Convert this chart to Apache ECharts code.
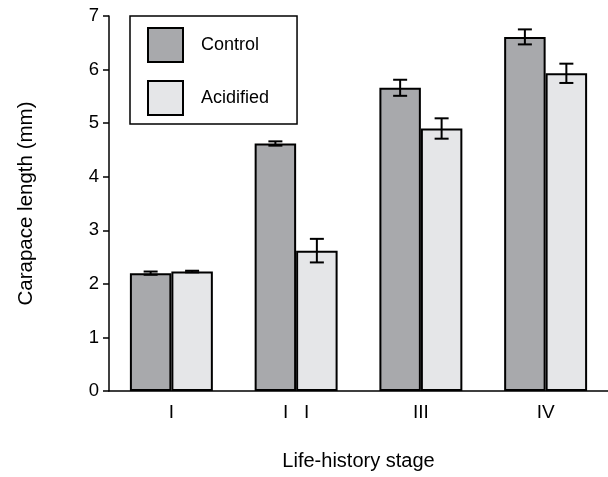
<!DOCTYPE html>
<html style="height: 100%">
<head>
    <meta charset="utf-8">
</head>
<body style="height: 100%; margin: 0; background: #fff">
    <div id="container" style="width: 608px; height: 477px"></div>
    <script type="text/javascript" src="https://cdn.jsdelivr.net/npm/echarts@6/dist/echarts.min.js"></script>
    <script type="text/javascript">
        var stages = ['I', 'I   I', 'III', 'IV'];
        var controlMean = [2.20, 4.62, 5.66, 6.61];
        var controlErr = [0.03, 0.04, 0.15, 0.14];
        var acidMean = [2.23, 2.62, 4.90, 5.93];
        var acidErr = [0.015, 0.22, 0.19, 0.18];

        var font = "'Liberation Sans', Arial, sans-serif";
        var gapPct = 0.335; // barCategoryGap

        // error bar series, side = -1 for left bar, +1 for right bar
        function errSeries(name, means, errs, side) {
            var data = means.map(function (m, i) { return [i, m, errs[i]]; });
            return {
                type: 'custom',
                name: name + ' err',
                silent: true,
                z: 5,
                data: data,
                encode: { x: 0, y: 1 },
                renderItem: function (params, api) {
                    var idx = api.value(0);
                    var band = api.size([1, 0])[0];
                    var barW = band * (1 - gapPct) / 2;
                    var x = api.coord([idx, 0])[0] + side * barW / 2;
                    var hi = api.coord([idx, api.value(1) + api.value(2)])[1];
                    var lo = api.coord([idx, api.value(1) - api.value(2)])[1];
                    var cap = 7;
                    var st = { stroke: '#000', lineWidth: 2 };
                    return {
                        type: 'group',
                        children: [
                            { type: 'line', shape: { x1: x, y1: hi, x2: x, y2: lo }, style: st },
                            { type: 'line', shape: { x1: x - cap, y1: hi, x2: x + cap, y2: hi }, style: st },
                            { type: 'line', shape: { x1: x - cap, y1: lo, x2: x + cap, y2: lo }, style: st }
                        ]
                    };
                }
            };
        }

        var myChart = echarts.init(document.getElementById('container'));

        var option = {
            animation: false,
            textStyle: { fontFamily: font },
            grid: { left: 109, right: 0, top: 16, bottom: 86 },
            legend: {
                orient: 'vertical',
                left: 130,
                top: 16,
                padding: [11, 28, 8, 17],
                itemWidth: 35,
                itemHeight: 34,
                itemGap: 17,
                borderColor: '#000',
                borderWidth: 1.5,
                icon: 'rect',
                selectedMode: false,
                data: ['Control', 'Acidified'],
                textStyle: { fontSize: 18, color: '#000', fontFamily: font, padding: [0, 0, 0, 13] }
            },
            xAxis: {
                type: 'category',
                data: stages,
                name: 'Life-history stage',
                nameLocation: 'middle',
                nameGap: 60,
                nameTextStyle: { fontSize: 20, color: '#000', fontFamily: font },
                axisLine: { lineStyle: { color: '#000', width: 1.5 } },
                axisTick: { length: 6, lineStyle: { color: '#000', width: 1.5 } },
                axisLabel: { fontSize: 19, color: '#000', margin: 12, fontFamily: font }
            },
            yAxis: {
                type: 'value',
                min: 0,
                max: 7,
                interval: 1,
                name: 'Carapace length (mm)',
                nameLocation: 'middle',
                nameGap: 72,
                nameTextStyle: { fontSize: 20.5, color: '#000', fontFamily: font },
                axisLine: { show: true, lineStyle: { color: '#000', width: 1.5 } },
                axisTick: { show: true, length: 6, lineStyle: { color: '#000', width: 1.5 } },
                axisLabel: { fontSize: 18.5, color: '#000', margin: 10, fontFamily: font },
                splitLine: { show: false }
            },
            series: [{
                type: 'bar',
                name: 'Control',
                data: controlMean,
                barGap: '0%',
                barCategoryGap: (gapPct * 100) + '%',
                itemStyle: { color: '#a8a9ac', borderColor: '#000', borderWidth: 2 }
            }, {
                type: 'bar',
                name: 'Acidified',
                data: acidMean,
                itemStyle: { color: '#e5e6e8', borderColor: '#000', borderWidth: 2 }
            },
                errSeries('Control', controlMean, controlErr, -1),
                errSeries('Acidified', acidMean, acidErr, 1)
            ]
        };

        myChart.setOption(option);
    </script>
</body>
</html>
